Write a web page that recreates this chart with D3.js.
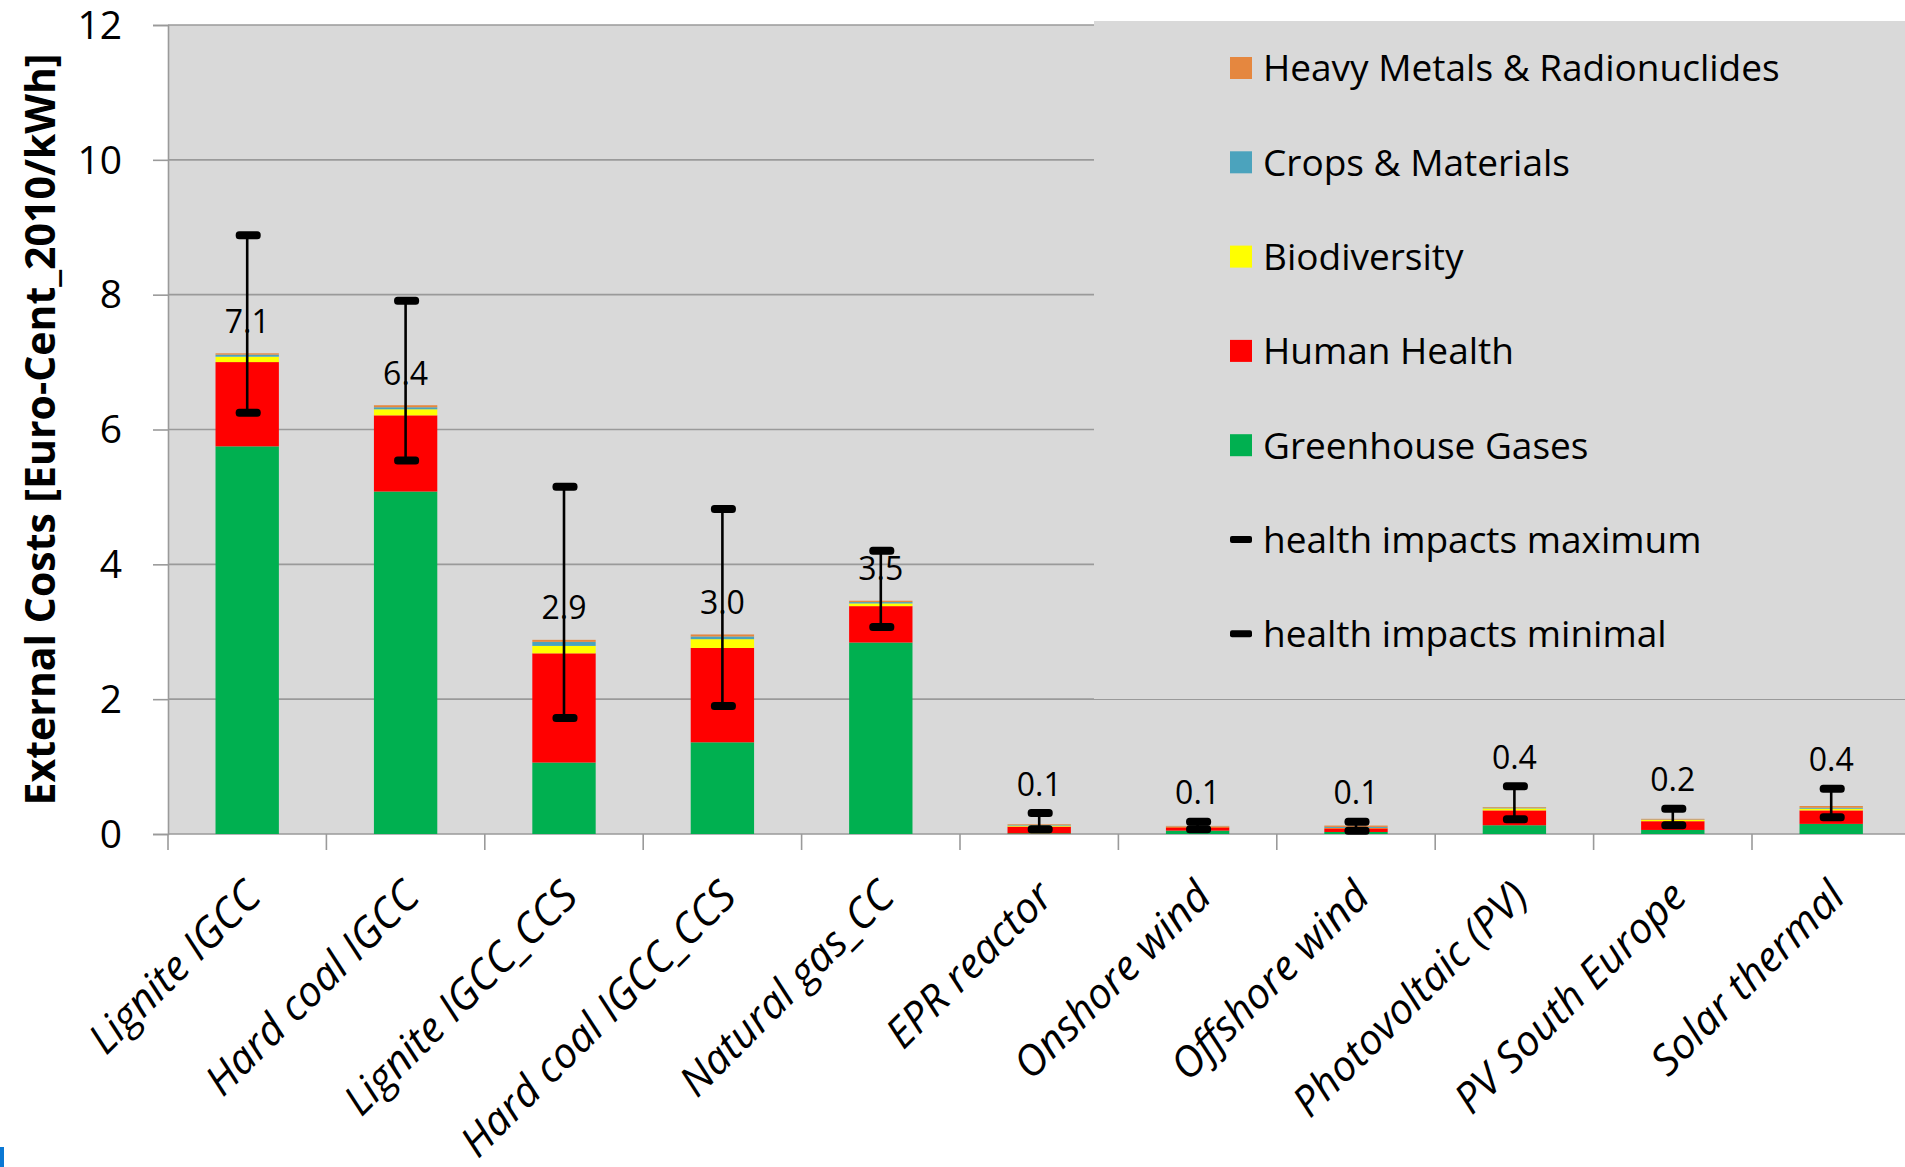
<!DOCTYPE html>
<html>
<head>
<meta charset="utf-8">
<script src="https://cdn.jsdelivr.net/npm/d3@7"></script>
<style>
  body { margin: 0; background: #ffffff; }
  svg { display: block; }
  text { font-family: "Open Sans", "Noto Sans", sans-serif; fill: #000; }
</style>
</head>
<body>
<svg id="chart" width="1905" height="1167"></svg>
<script>
// Technologies on the category axis
const categories = [
  "Lignite IGCC", "Hard coal IGCC", "Lignite IGCC_CCS", "Hard coal IGCC_CCS",
  "Natural gas_CC", "EPR reactor", "Onshore wind", "Offshore wind",
  "Photovoltaic (PV)", "PV South Europe", "Solar thermal"
];

// External cost components, Euro-Cent_2010/kWh (stacked bottom to top)
const greenhouseGases = [5.75, 5.08, 1.06, 1.36, 2.84, 0.01, 0.05, 0.03, 0.13, 0.06, 0.15];
const humanHealth     = [1.25, 1.13, 1.62, 1.40, 0.54, 0.10, 0.05, 0.055, 0.22, 0.13, 0.20];
const biodiversity    = [0.08, 0.09, 0.11, 0.13, 0.04, 0.015, 0.005, 0.005, 0.03, 0.02, 0.025];
const cropsMaterials  = [0.03, 0.03, 0.06, 0.04, 0.02, 0.01, 0.005, 0.015, 0.01, 0.005, 0.015];
const heavyMetals     = [0.02, 0.03, 0.03, 0.03, 0.02, 0.01, 0.01, 0.02, 0.01, 0.01, 0.025];

// Range of the health impact estimates
const healthMax = [8.88, 7.91, 5.15, 4.82, 4.20, 0.31, 0.18, 0.18, 0.71, 0.375, 0.67];
const healthMin = [6.25, 5.54, 1.72, 1.90, 3.07, 0.07, 0.07, 0.05, 0.22, 0.13, 0.25];

// Value axis ticks
const yTicks = [0, 2, 4, 6, 8, 10, 12];

const seriesKeys   = ["gh", "hh", "bio", "crops", "hm"];
const seriesNames  = ["Greenhouse Gases", "Human Health", "Biodiversity", "Crops & Materials", "Heavy Metals & Radionuclides"];
const seriesColors = ["#00b050", "#ff0000", "#ffff00", "#4ba3bd", "#e5873f"];

const rows = categories.map((c, i) => ({
  category: c,
  gh: greenhouseGases[i],
  hh: humanHealth[i],
  bio: biodiversity[i],
  crops: cropsMaterials[i],
  hm: heavyMetals[i],
  max: healthMax[i],
  min: healthMin[i]
}));

const svg = d3.select("#chart");

const plot = { left: 168, top: 25, bottom: 834, step: 158.4 };
plot.right = plot.left + plot.step * categories.length;

const x = d3.scaleBand()
  .domain(categories)
  .range([plot.left, plot.right])
  .paddingInner(0.6)
  .paddingOuter(0.3);

const y = d3.scaleLinear().domain([0, 12]).range([plot.bottom, plot.top]);

const gridColor = "#9a9a9a";

// plot background
svg.append("rect")
  .attr("x", plot.left).attr("y", plot.top)
  .attr("width", plot.right - plot.left).attr("height", plot.bottom - plot.top)
  .attr("fill", "#d9d9d9");

// value axis with gridlines
const yAxis = svg.append("g")
  .attr("transform", `translate(${plot.left},0)`)
  .call(d3.axisLeft(y).tickValues(yTicks).tickSize(15).tickPadding(31).tickFormat(d3.format("d")));
yAxis.select(".domain").attr("stroke", gridColor).attr("stroke-width", 1.6);
yAxis.selectAll(".tick line").attr("stroke", gridColor).attr("stroke-width", 1.6);
yAxis.selectAll(".tick text")
  .style("font-family", '"Open Sans", sans-serif')
  .style("font-size", "39px")
  .attr("dy", "0.34em")
  .attr("fill", "#000");

svg.append("g")
  .selectAll("line")
  .data(yTicks)
  .join("line")
  .attr("x1", plot.left).attr("x2", plot.right)
  .attr("y1", d => y(d)).attr("y2", d => y(d))
  .attr("stroke", gridColor).attr("stroke-width", 1.6);

// category axis tick marks at band boundaries
const boundaries = categories.map(c => x(c) - (x.step() - x.bandwidth()) / 2);
svg.append("g")
  .selectAll("line")
  .data(boundaries)
  .join("line")
  .attr("x1", d => d).attr("x2", d => d)
  .attr("y1", plot.bottom).attr("y2", plot.bottom + 16)
  .attr("stroke", gridColor).attr("stroke-width", 1.6);

// legend panel (drawn over the upper gridlines)
const legendBox = { x: 1094, y: 21, h: 678 };
svg.append("rect")
  .attr("x", legendBox.x).attr("y", legendBox.y)
  .attr("width", 1905 - legendBox.x + 10).attr("height", legendBox.h)
  .attr("fill", "#d9d9d9");

// stacked bars
const stacked = d3.stack().keys(seriesKeys)(rows);
svg.append("g")
  .selectAll("g")
  .data(stacked)
  .join("g")
  .attr("fill", (d, i) => seriesColors[i])
  .selectAll("rect")
  .data(d => d)
  .join("rect")
  .attr("x", d => x(d.data.category))
  .attr("width", x.bandwidth())
  .attr("y", d => y(d[1]))
  .attr("height", d => y(d[0]) - y(d[1]));

// health impact range: connecting line and dash markers
const cx = d => x(d.category) + x.bandwidth() / 2;
const errG = svg.append("g");
errG.selectAll("line")
  .data(rows)
  .join("line")
  .attr("x1", cx).attr("x2", cx)
  .attr("y1", d => y(d.min)).attr("y2", d => y(d.max))
  .attr("stroke", "#000").attr("stroke-width", 2.6);

const capW = 25, capH = 8;
["max", "min"].forEach(k => {
  errG.append("g")
    .selectAll("rect")
    .data(rows)
    .join("rect")
    .attr("x", d => cx(d) - capW / 2 + 1)
    .attr("y", d => y(d[k]) - capH / 2)
    .attr("width", capW).attr("height", capH)
    .attr("rx", 3.5)
    .attr("fill", "#000");
});

// total value labels
const total = d => seriesKeys.reduce((s, k) => s + d[k], 0);
svg.append("g")
  .selectAll("text")
  .data(rows)
  .join("text")
  .attr("x", cx)
  .attr("y", d => {
    const top = y(total(d));
    const capTop = y(d.max);
    return (top - capTop) < 30 ? capTop - 29 : top - 32;
  })
  .attr("dy", "0.36em")
  .attr("text-anchor", "middle")
  .style("font-size", "32px")
  .text(d => d3.format(".1f")(total(d)));

// category labels, rotated
svg.append("g")
  .selectAll("text")
  .data(categories)
  .join("text")
  .attr("transform", c => `translate(${x(c) + x.bandwidth() / 2 + 16},${899}) rotate(-45)`)
  .attr("text-anchor", "end")
  .style("font-size", "42px")
  .style("font-style", "italic")
  .text(c => c);

// value axis title
svg.append("text")
  .attr("transform", `translate(55,${(plot.top + plot.bottom) / 2}) rotate(-90)`)
  .attr("text-anchor", "middle")
  .style("font-size", "41px")
  .style("font-weight", "bold")
  .text("External Costs [Euro-Cent_2010/kWh]");

// legend entries
const legendItems = [
  { name: seriesNames[4], color: seriesColors[4], type: "box" },
  { name: seriesNames[3], color: seriesColors[3], type: "box" },
  { name: seriesNames[2], color: seriesColors[2], type: "box" },
  { name: seriesNames[1], color: seriesColors[1], type: "box" },
  { name: seriesNames[0], color: seriesColors[0], type: "box" },
  { name: "health impacts maximum", color: "#000", type: "dash" },
  { name: "health impacts minimal", color: "#000", type: "dash" }
];
const leg = svg.append("g");
const legRow = leg.selectAll("g")
  .data(legendItems)
  .join("g")
  .attr("transform", (d, i) => `translate(1230,${68 + i * 94.3})`);
legRow.filter(d => d.type === "box").append("rect")
  .attr("x", 0).attr("y", -11).attr("width", 22).attr("height", 22)
  .attr("fill", d => d.color);
legRow.filter(d => d.type === "dash").append("rect")
  .attr("x", 0).attr("y", -3.5).attr("width", 22).attr("height", 7).attr("rx", 2)
  .attr("fill", d => d.color);
legRow.append("text")
  .attr("x", 33)
  .attr("dy", "0.36em")
  .style("font-size", "37px")
  .text(d => d.name);

// small edge marker at the lower left
svg.append("rect")
  .attr("x", 0).attr("y", 1147).attr("width", 4).attr("height", 20)
  .attr("fill", "#0a78d4");
</script>
</body>
</html>
